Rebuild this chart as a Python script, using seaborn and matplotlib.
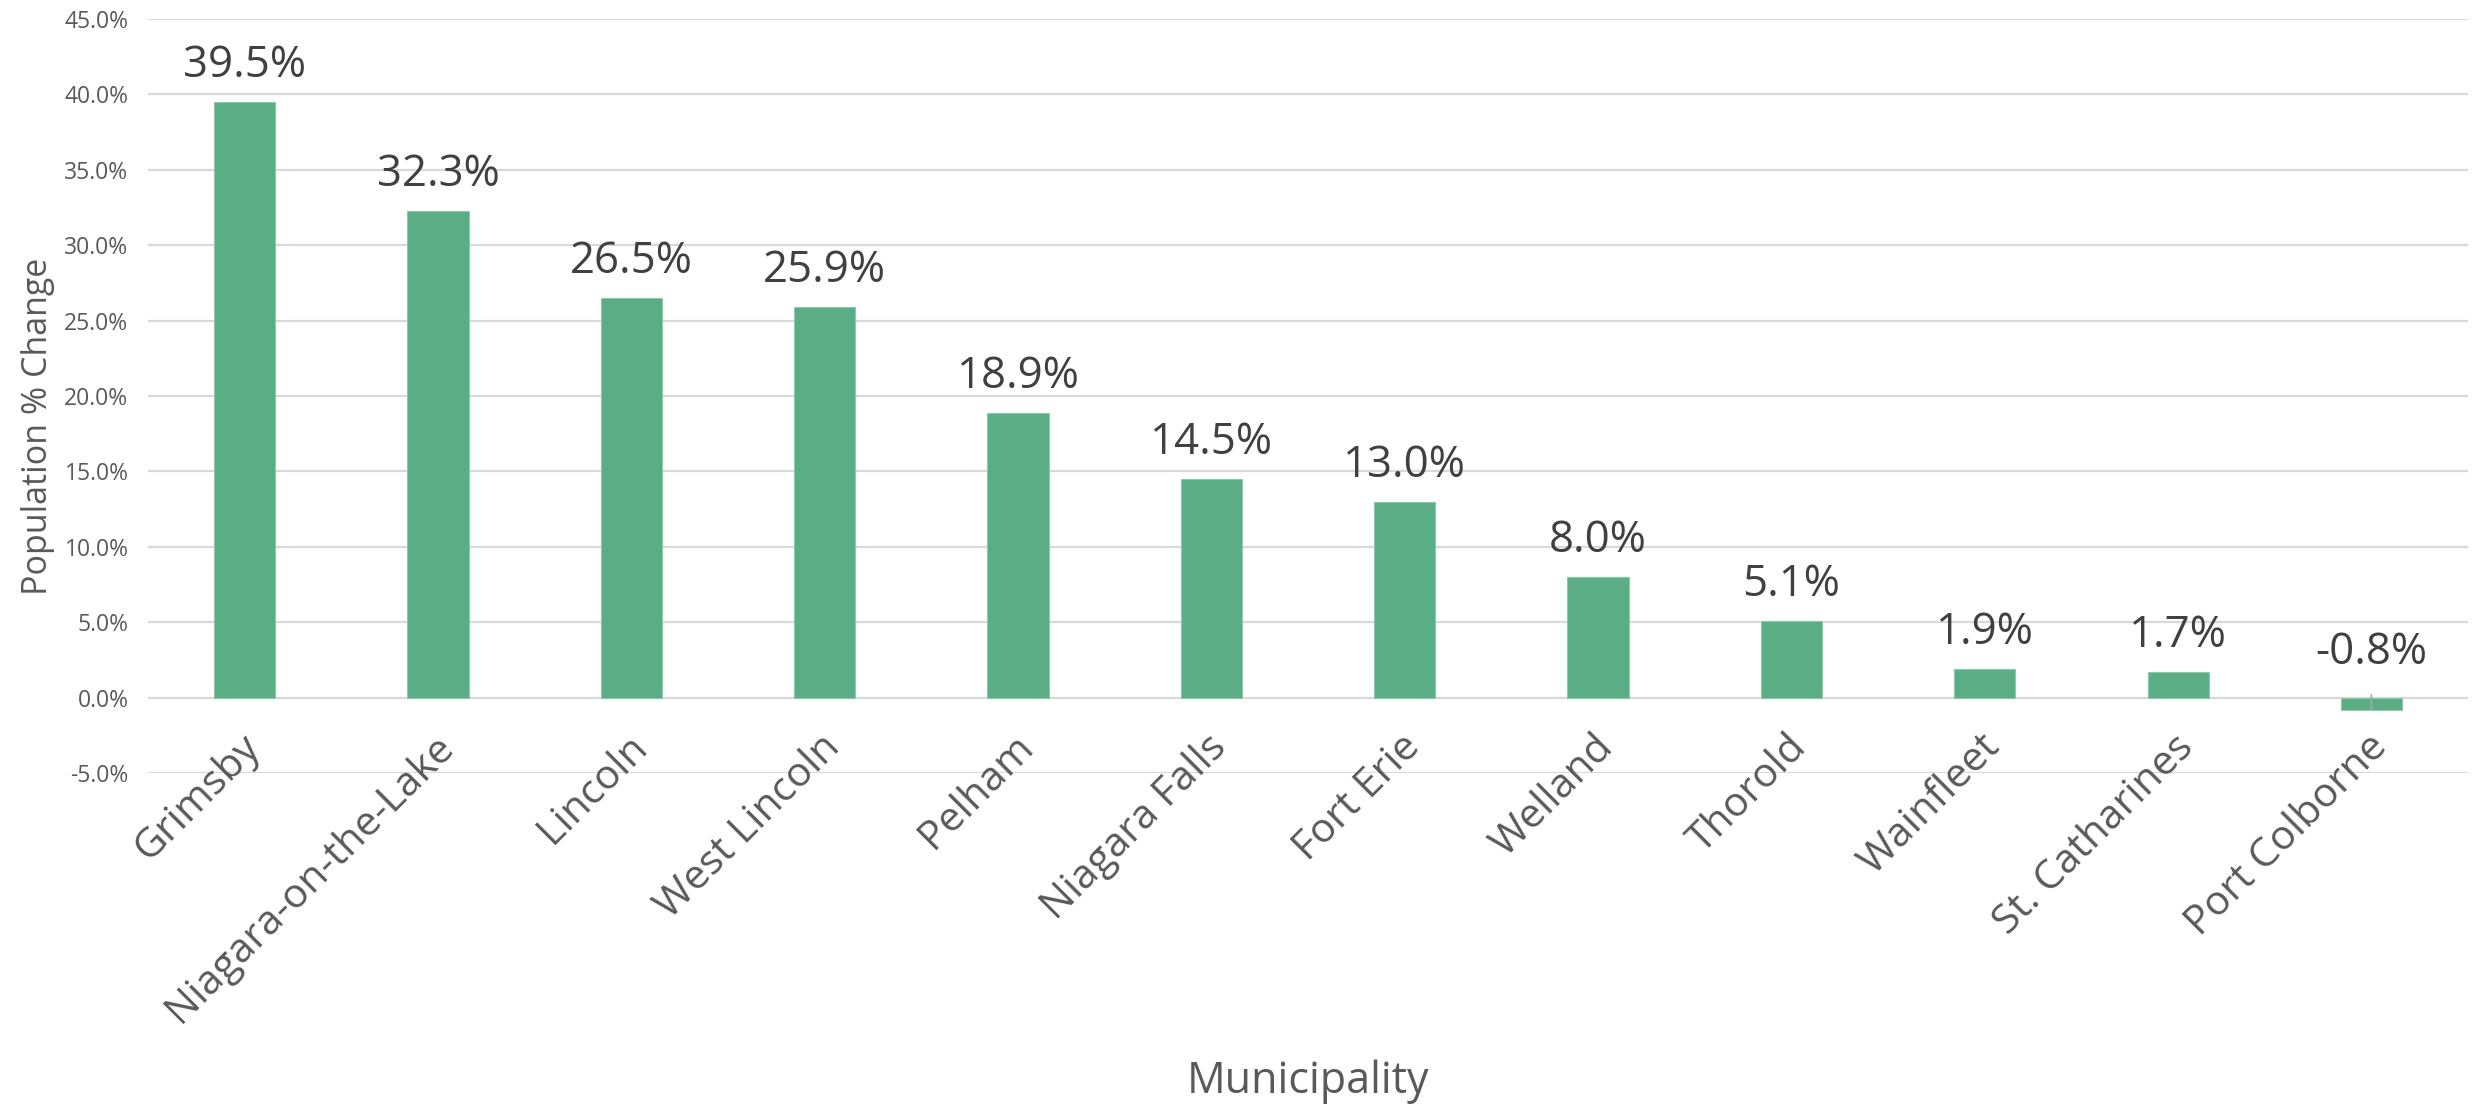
import matplotlib
matplotlib.use("Agg")
import matplotlib.pyplot as plt
import seaborn as sns
import pandas as pd
from matplotlib.ticker import FuncFormatter, MultipleLocator

municipalities = ["Grimsby", "Niagara-on-the-Lake", "Lincoln", "West Lincoln", "Pelham",
                  "Niagara Falls", "Fort Erie", "Welland", "Thorold", "Wainfleet",
                  "St. Catharines", "Port Colborne"]
pct_change = [39.5, 32.3, 26.5, 25.9, 18.9, 14.5, 13.0, 8.0, 5.1, 1.9, 1.7, -0.8]

df = pd.DataFrame({"Municipality": municipalities, "Change": pct_change})

sns.set_theme(style="white")
plt.rcParams["font.family"] = ["Open Sans", "DejaVu Sans"]

fig = plt.figure(figsize=(24.78, 11.06), dpi=100)
ax = fig.add_axes([0.0597, 0.3011, 0.9363, 0.6817])

BAR = "#5BAD85"
sns.barplot(data=df, x="Municipality", y="Change", color=BAR, saturation=1,
            width=0.316, ax=ax, edgecolor="#8CCBAA", linewidth=0.8)

ax.set_ylim(-5, 45)
ax.set_xlim(-0.5, len(municipalities) - 0.5)
ax.yaxis.set_major_locator(MultipleLocator(5))
ax.yaxis.set_major_formatter(FuncFormatter(lambda v, p: f"{v:.1f}%"))
ax.grid(axis="y", color="#D9D9D9", linewidth=1.6)
ax.set_axisbelow(True)
for s in ax.spines.values():
    s.set_visible(False)
ax.tick_params(axis="y", labelsize=16.5, labelcolor="#595959", length=0, pad=14)
ax.tick_params(axis="x", length=0)
ax.set_xticklabels([])

for i, (name, v) in enumerate(zip(municipalities, pct_change)):
    ax.text(i + 0.05, -2.9, name, rotation=45, ha="right", va="center",
            rotation_mode="anchor", fontsize=29.5, color="#595959")
    if v >= 0:
        ax.annotate(f"{v:.1f}%", (i, v), xytext=(0, 10), textcoords="offset points",
                    ha="center", va="bottom", fontsize=31.5, color="#404040")
    else:
        ax.annotate(f"{v:.1f}%", (i, v), xytext=(0, 25), textcoords="offset points",
                    ha="center", va="bottom", fontsize=31.5, color="#404040",
                    arrowprops=dict(arrowstyle="-", color="#A6A6A6", lw=1.2,
                                    shrinkA=12, shrinkB=0))

ax.set_ylabel("Population % Change", fontsize=24.5, color="#595959")
ax.yaxis.set_label_coords(-0.040, 0.46)
ax.set_xlabel("")
fig.text(0.528, 0.022, "Municipality", ha="center", va="center", fontsize=31, color="#595959")

fig.savefig("out.png", dpi=100, facecolor="white")
